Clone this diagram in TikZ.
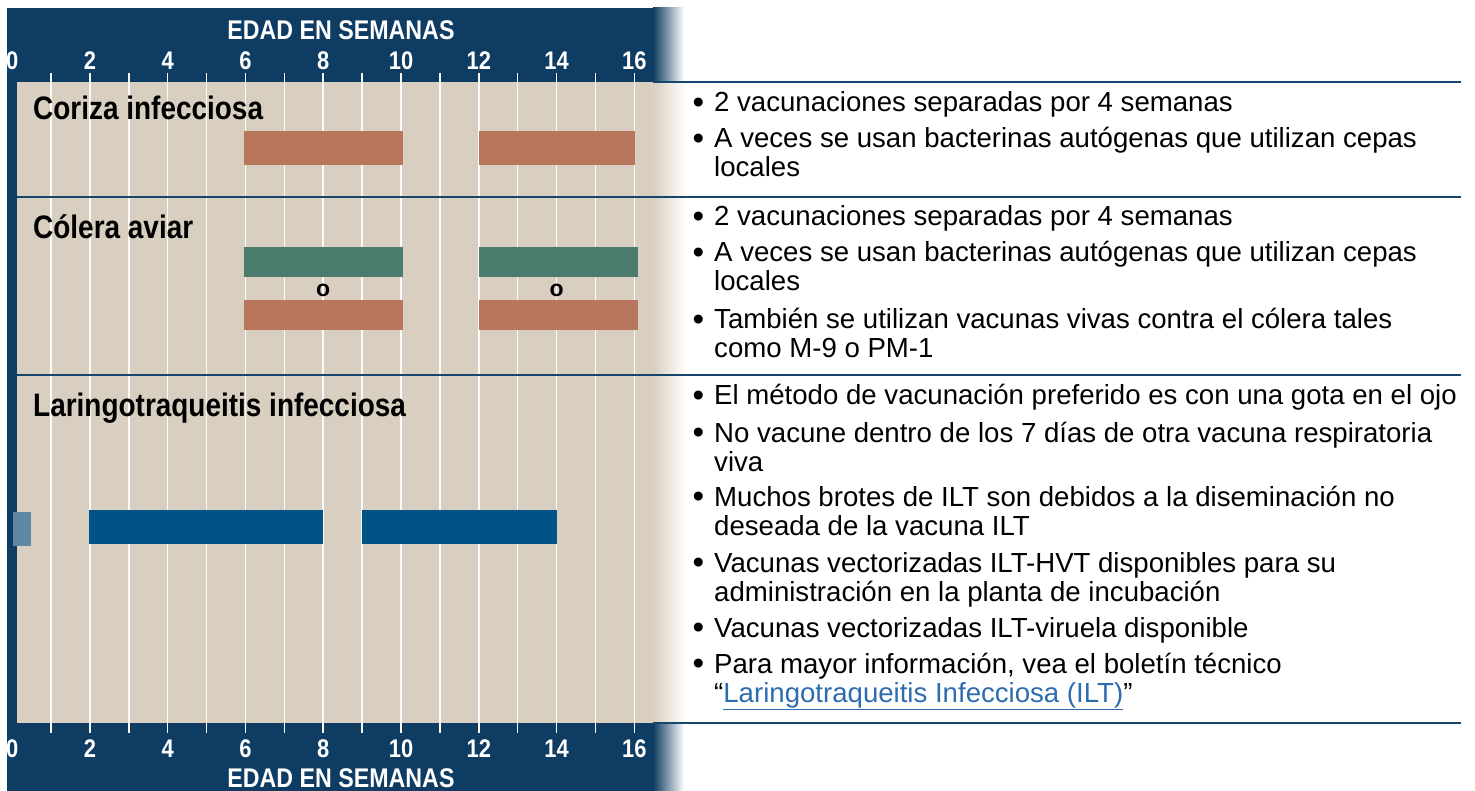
\documentclass[tikz,border=0pt]{standalone}
\usepackage{fontspec}
\setmainfont{Liberation Sans}
\newfontfamily\estrecha{Liberation Sans}[FakeStretch=0.86]
\usepackage{xcolor}
\usepackage{tikz}

\definecolor{navy}{RGB}{14,60,98}
\definecolor{linea}{RGB}{22,70,110}
\definecolor{beige}{RGB}{217,207,193}
\definecolor{ocre}{RGB}{184,118,92}
\definecolor{verde}{RGB}{74,123,108}
\definecolor{azul}{RGB}{2,82,138}
\definecolor{celeste}{RGB}{95,135,163}
\definecolor{enlace}{RGB}{46,108,176}

\newcommand{\bul}{\leavevmode\llap{\raisebox{-1.8pt}{\fontsize{33}{29}\selectfont\textbullet}\hspace{10pt}}}
\newcommand{\itm}[1]{\parbox[t]{780pt}{\raggedright\bul #1}}

\begin{document}
\begin{tikzpicture}[x=1pt,y=-1pt,
    eje/.style={anchor=base,text=white,inner sep=0pt,font=\estrecha\bfseries\fontsize{27}{29}\selectfont},
    num/.style={anchor=base,text=white,inner sep=0pt,font=\estrecha\bfseries\fontsize{25.5}{27}\selectfont},
    titulo/.style={anchor=base west,inner sep=0pt,font=\estrecha\bfseries\fontsize{32.5}{34}\selectfont},
    nota/.style={anchor=base west,inner sep=0pt,font=\fontsize{27.6}{29}\selectfont},
    letra/.style={inner sep=0pt,font=\bfseries\fontsize{23}{24}\selectfont},
    rejilla/.style={line width=1.5pt,color=white!92!beige},
    sep/.style={line width=2.5pt,color=linea}]
    \useasboundingbox (0,0) rectangle (1475,791);

    \fill[navy] (7,8) rectangle (653,791);
    \shade[left color=navy,right color=white] (653,8) rectangle (684,82);
    \shade[left color=navy,right color=white] (653,723) rectangle (684,791);
    \fill[beige] (16.5,82) rectangle (653,723);
    \shade[left color=beige,right color=white] (653,82) rectangle (686,723);

    \begin{scope}[x=38.88pt,xshift=12.2pt]
        \foreach \n in {1,...,16}
            \draw[rejilla] (\n,73) -- (\n,733);
        \foreach \n in {0,2,...,16} {
            \node[num] (a\n) at (\n,70) {\n};
            \node[num] (b\n) at (\n,757) {\n};
        }
    \end{scope}

    \draw[sep] (653,82) -- (1461,82);
    \draw[sep] (16.5,197) -- (1461,197);
    \draw[sep] (16.5,375) -- (1461,375);
    \draw[sep] (653,723) -- (1461,723);

    \begin{scope}[x=38.88pt,xshift=12.2pt]
        \fill[ocre] (5.97,131) rectangle (10.05,165);
        \fill[ocre] (12.01,131) rectangle (16.03,165);
        \fill[verde] (5.97,247) rectangle (10.05,277);
        \fill[verde] (12.01,247) rectangle (16.1,277);
        \fill[ocre] (5.97,300) rectangle (10.05,330);
        \fill[ocre] (12.01,300) rectangle (16.1,330);
        \fill[celeste] (0.01,512) rectangle (0.48,546);
        \fill[azul] (1.98,510) rectangle (8,544);
        \fill[azul] (9,510) rectangle (14.01,544);
        \node[letra] (o1) at (8,290) {o};
        \node[letra] (o2) at (14,290) {o};
    \end{scope}

    \node[eje] (arriba) at (341,40) {EDAD EN SEMANAS};
    \node[eje] (abajo) at (341,787) {EDAD EN SEMANAS};

    \node[titulo] (coriza) at (33,120) {Coriza infecciosa};
    \node[titulo] (colera) at (33,239) {Cólera aviar};
    \node[titulo] (ilt) at (33,417) {Laringotraqueitis infecciosa};

    \node[nota] (c1) at (714,112) {\itm{2 vacunaciones separadas por 4 semanas}};
    \node[nota] (c2) at (714,148) {\itm{A veces se usan bacterinas autógenas que utilizan cepas\\locales}};

    \node[nota] (k1) at (714,226) {\itm{2 vacunaciones separadas por 4 semanas}};
    \node[nota] (k2) at (714,262) {\itm{A veces se usan bacterinas autógenas que utilizan cepas\\locales}};
    \node[nota] (k3) at (714,329) {\itm{También se utilizan vacunas vivas contra el cólera tales\\como M-9 o PM-1}};

    \node[nota] (l1) at (714,405) {\itm{El método de vacunación preferido es con una gota en el ojo}};
    \node[nota] (l2) at (714,442) {\itm{No vacune dentro de los 7 días de otra vacuna respiratoria\\viva}};
    \node[nota] (l3) at (714,506) {\itm{Muchos brotes de ILT son debidos a la diseminación no\\deseada de la vacuna ILT}};
    \node[nota] (l4) at (714,572) {\itm{Vacunas vectorizadas ILT-HVT disponibles para su\\administración en la planta de incubación}};
    \node[nota] (l5) at (714,637) {\itm{Vacunas vectorizadas ILT-viruela disponible}};
    \node[nota] (l6) at (714,673) {\itm{Para mayor información, vea el boletín técnico\\“\textcolor{enlace}{\underline{Laringotraqueitis Infecciosa (ILT)}}”}};
\end{tikzpicture}
\end{document}
